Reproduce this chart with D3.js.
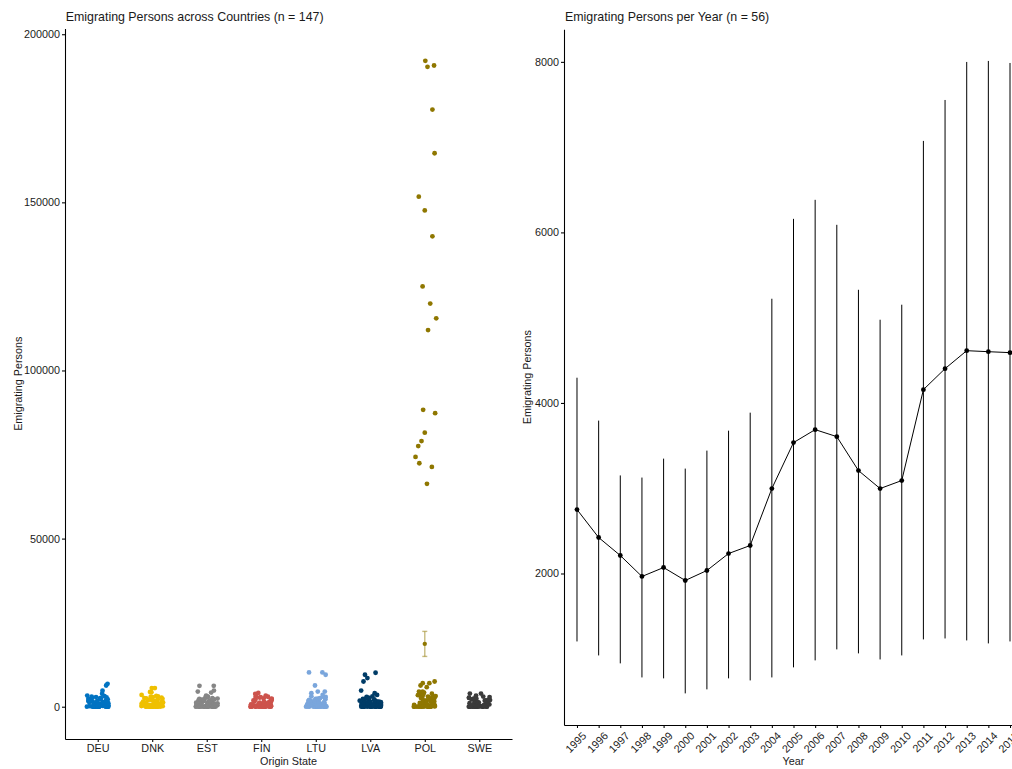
<!DOCTYPE html>
<html>
<head>
<meta charset="utf-8">
<script src="https://cdn.jsdelivr.net/npm/d3@7"></script>
<style>
  body { margin: 0; background: #fff; }
  svg { display: block; font-family: "Liberation Sans", Arial, Helvetica, sans-serif; }
</style>
</head>
<body>
<svg id="chart" width="1012" height="769"></svg>
<script>
// ---------------- DATA ----------------
const countries = ["DEU", "DNK", "EST", "FIN", "LTU", "LVA", "POL", "SWE"];

const deuValues = [0,0,0,0,0,0,0,0,0,0,0,0,15,30,55,70,95,120,160,190,230,270,330,380,410,470,530,610,660,720,810,880,960,1040,1130,1210,1320,1390,1480,1570,1690,1760,1840,1950,2060,2140,2270,2330,2460,2580,2690,2760,2870,2980,3120,3300,3850,4750,6300,6800];
const dnkValues = [0,0,0,0,0,0,0,0,0,0,0,0,20,35,60,85,110,140,170,210,260,310,350,420,470,520,590,650,730,790,870,940,1010,1100,1180,1270,1350,1440,1530,1620,1710,1820,1900,2010,2120,2230,2340,2450,2560,2700,2830,2960,3100,3250,3500,4300,4400,5550,5550];
const estValues = [0,0,0,0,0,0,0,0,0,0,0,0,10,30,50,80,100,130,170,200,250,290,340,400,450,510,570,640,700,780,850,920,1000,1090,1170,1250,1340,1420,1510,1610,1700,1800,1890,1990,2100,2200,2310,2420,2540,2660,2790,2910,3050,3300,4200,4500,4800,6200,6200];
const finValues = [0,0,0,0,0,0,0,0,0,0,0,0,10,25,45,70,90,120,150,190,230,280,320,380,430,490,550,620,680,750,830,900,980,1060,1140,1230,1310,1400,1490,1580,1680,1770,1870,1960,2060,2160,2270,2380,2490,2600,2720,2840,2960,3100,3300,3800,4100];
const ltuValues = [0,0,0,0,0,0,0,0,0,0,0,0,15,35,55,80,105,135,165,205,245,295,345,395,455,505,575,635,705,775,845,925,995,1075,1165,1245,1335,1425,1515,1605,1705,1795,1895,1995,2095,2205,2315,2425,2545,2665,2785,2905,3100,3500,4000,4500,4500,6300,9500,10200,10200];
const lvaValues = [0,0,0,0,0,0,0,0,0,0,0,0,20,40,60,85,105,135,170,205,250,290,345,390,450,505,570,630,700,770,850,920,1000,1080,1160,1250,1330,1420,1510,1600,1700,1800,1890,1990,2090,2200,2310,2420,2540,2650,2780,2900,3050,3500,4000,4800,7500,8500,9500,10100];
const polValues = [0,0,0,0,0,0,0,0,0,0,0,0,25,50,80,110,150,190,240,290,350,410,470,540,610,690,760,840,920,1010,1100,1190,1280,1380,1480,1580,1690,1790,1900,2010,2130,2250,2370,2490,2620,2750,2880,3010,3150,3290,3430,3580,3730,3890,4050,4200,4500,4500,5800,6300,7000,7000,7500];
const sweValues = [0,0,0,0,0,0,0,0,0,0,0,0,10,30,50,75,95,125,160,195,235,280,330,380,430,490,550,610,680,750,820,900,980,1060,1140,1220,1310,1400,1490,1580,1670,1770,1860,1960,2060,2170,2270,2380,2500,2610,2730,2860,3000,3300,3900,3900];

// POL large flows, with the jitter offsets (category units)
const polHigh = [192100,190300,190700,177600,164600,151700,147600,139900,125000,119900,115500,112000,88300,87300,81500,79000,77500,74300,72400,71300,66300];
const polHighJitter = [0.01,0.05,0.17,0.14,0.18,-0.11,0.0,0.14,-0.04,0.10,0.21,0.06,-0.03,0.19,0.0,-0.06,-0.12,-0.17,-0.10,0.13,0.04];

// POL mean and error bar
const polMean = 18700, polLow = 14950, polUp = 22400;

// Per-year summary
const years = ["1995","1996","1997","1998","1999","2000","2001","2002","2003","2004","2005","2006","2007","2008","2009","2010","2011","2012","2013","2014","2015"];
const yearMean  = [2750,2422,2211,1965,2070,1918,2035,2234,2328,2996,3535,3687,3605,3207,2996,3090,4156,4402,4613,4601,4590];
const yearUpper = [4296,3793,3150,3125,3347,3230,3441,3675,3886,5222,6159,6382,6089,5327,4976,5152,7073,7553,7999,8011,7987];
const yearLower = [1203,1039,946,781,770,594,641,770,746,781,899,981,1110,1063,992,1039,1227,1238,1215,1180,1203];

const leftTicks = [0, 50000, 100000, 150000, 200000];
const rightTicks = [2000, 4000, 6000, 8000];

// ---------------- STYLE ----------------
const palette = ["#0073C2", "#EFC000", "#868686", "#CD534C", "#7AA6DC", "#003C67", "#8F7700", "#3B3B3B"];
const tickFont = 10.8, titleFont = 12.4;
const textCol = "#1a1a1a";

const svg = d3.select("#chart");

// ================= LEFT PANEL =================
const L = { x0: 65, x1: 512, y0: 28.5, y1: 739 };
const blobs = [deuValues, dnkValues, estValues, finValues, ltuValues, lvaValues, polValues, sweValues];

const allMax = d3.max(polHigh.concat(...blobs));
const allMin = 0;
const lPad = (allMax - allMin) * 0.05;
const yL = d3.scaleLinear().domain([allMin - lPad, allMax + lPad]).range([L.y1, L.y0]);
const xL = d3.scalePoint().domain(countries).range([L.x0, L.x1]).padding(0.6);
const stepL = xL.step();

const jit = d3.randomUniform.source(d3.randomLcg(0.3141))(-0.2, 0.2);

const gL = svg.append("g");
const pts = [];
blobs.forEach((vals, i) => {
  vals.forEach(v => pts.push({ c: countries[i], v: v, j: jit(), col: palette[i] }));
});
polHigh.forEach((v, k) => pts.push({ c: "POL", v: v, j: polHighJitter[k], col: palette[6] }));

gL.selectAll("circle.pt").data(pts).join("circle")
  .attr("class", "pt")
  .attr("cx", d => xL(d.c) + d.j * stepL)
  .attr("cy", d => yL(d.v))
  .attr("r", 2.4)
  .attr("fill", d => d.col);

// POL mean + error bar
const px = xL("POL");
const eb = gL.append("g").attr("stroke", palette[6]).attr("stroke-opacity", 0.5).attr("stroke-width", 1.4);
eb.append("line").attr("x1", px).attr("x2", px).attr("y1", yL(polLow)).attr("y2", yL(polUp));
eb.append("line").attr("x1", px - 2.5).attr("x2", px + 2.5).attr("y1", yL(polLow)).attr("y2", yL(polLow));
eb.append("line").attr("x1", px - 2.5).attr("x2", px + 2.5).attr("y1", yL(polUp)).attr("y2", yL(polUp));
gL.append("circle").attr("cx", px).attr("cy", yL(polMean)).attr("r", 2.2).attr("fill", palette[6]);

// axes
svg.append("g").attr("transform", `translate(${L.x0},0)`)
  .call(d3.axisLeft(yL).tickValues(leftTicks).tickFormat(d3.format("d")).tickSize(3).tickPadding(2).tickSizeOuter(0));
svg.append("g").attr("transform", `translate(0,${L.y1})`)
  .call(d3.axisBottom(xL).tickSize(3).tickPadding(2).tickSizeOuter(0));

// ================= RIGHT PANEL =================
const R = { x0: 564, x1: 1023, y0: 29.3, y1: 725 };
const rMin = d3.min(yearLower), rMax = d3.max(yearUpper);
const rPad = (rMax - rMin) * 0.05;
const yR = d3.scaleLinear().domain([rMin - rPad, rMax + rPad]).range([R.y1, R.y0]);
const xR = d3.scalePoint().domain(years).range([R.x0, R.x1]).padding(0.6);

const gR = svg.append("g");
const rows = years.map((y, i) => ({ y, m: yearMean[i], lo: yearLower[i], hi: yearUpper[i] }));
gR.selectAll("line.eb").data(rows).join("line")
  .attr("class", "eb")
  .attr("x1", d => xR(d.y)).attr("x2", d => xR(d.y))
  .attr("y1", d => yR(d.lo)).attr("y2", d => yR(d.hi))
  .attr("stroke", "#000").attr("stroke-width", 1);
gR.append("path").datum(rows)
  .attr("fill", "none").attr("stroke", "#000").attr("stroke-width", 1)
  .attr("d", d3.line().x(d => xR(d.y)).y(d => yR(d.m)));
gR.selectAll("circle.m").data(rows).join("circle")
  .attr("class", "m")
  .attr("cx", d => xR(d.y)).attr("cy", d => yR(d.m)).attr("r", 2.4).attr("fill", "#000");

svg.append("g").attr("transform", `translate(${R.x0},0)`)
  .call(d3.axisLeft(yR).tickValues(rightTicks).tickFormat(d3.format("d")).tickSize(3).tickPadding(2).tickSizeOuter(0));
const axRB = svg.append("g").attr("transform", `translate(0,${R.y1})`)
  .call(d3.axisBottom(xR).tickSize(3).tickPadding(2).tickSizeOuter(0));
axRB.selectAll(".tick text")
  .attr("text-anchor", "end")
  .attr("y", null)
  .attr("transform", "translate(4,6) rotate(-45)")
  .attr("dy", "0.72em");

// common axis styling
svg.selectAll(".domain").attr("stroke", "#000").attr("stroke-width", 1.07);
svg.selectAll(".tick line").attr("stroke", "#000").attr("stroke-width", 1.07);
svg.selectAll(".tick text").attr("font-size", tickFont).attr("fill", textCol).attr("font-family", null);

// titles
svg.append("text").attr("x", 65.7).attr("y", 20.5).attr("font-size", titleFont).attr("fill", textCol).text("Emigrating Persons across Countries (n = 147)");
svg.append("text").attr("x", 565).attr("y", 20.5).attr("font-size", titleFont).attr("fill", textCol).text("Emigrating Persons per Year (n = 56)");

svg.append("text").attr("x", (L.x0 + L.x1) / 2).attr("y", 764.5).attr("text-anchor", "middle").attr("font-size", tickFont).attr("fill", textCol).text("Origin State");
svg.append("text").attr("x", (R.x0 + R.x1) / 2).attr("y", 764.5).attr("text-anchor", "middle").attr("font-size", tickFont).attr("fill", textCol).text("Year");

svg.append("text").attr("transform", `translate(21.5,${(L.y0 + L.y1) / 2}) rotate(-90)`).attr("text-anchor", "middle").attr("font-size", tickFont).attr("fill", textCol).text("Emigrating Persons");
svg.append("text").attr("transform", `translate(531,${(R.y0 + R.y1) / 2}) rotate(-90)`).attr("text-anchor", "middle").attr("font-size", tickFont).attr("fill", textCol).text("Emigrating Persons");
</script>
</body>
</html>
